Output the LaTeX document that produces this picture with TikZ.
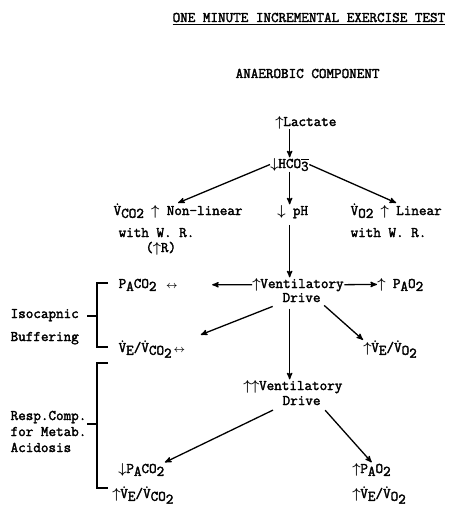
\documentclass[tikz,border=0pt]{standalone}
\usepackage{amssymb,amsmath}
\usepackage{fontspec}
\setmonofont{Latin Modern Mono}[FakeBold=2.2]
\usepackage{tikz}
\usetikzlibrary{shapes,arrows}
\tikzstyle{lbl} = [anchor=base west, inner sep=0pt]
\newcommand{\dn}[1]{\raisebox{-0.45ex}{#1}}
\newcommand{\dnn}[1]{\raisebox{-0.9ex}{#1}}
\newcommand{\Vd}{\accent"02D9 V}
\newcommand{\upa}{\makebox[0.525em]{$\boldsymbol{\uparrow}$}}
\newcommand{\dna}{\makebox[0.525em]{$\boldsymbol{\downarrow}$}}
\newcommand{\lra}{\makebox[1.05em]{$\scriptstyle\boldsymbol{\leftrightarrow}$}}

\begin{document}
\begin{tikzpicture}[x=1pt,y=-1pt,->,>=stealth',line width=1.3pt,
  every node/.style={font=\ttfamily\fontsize{14.7}{17}\selectfont}]
\useasboundingbox (0,0) rectangle (450,508);

\node[lbl] (title) at (172,22) {\underline{ONE MINUTE INCREMENTAL EXERCISE TEST}};
\node[lbl] (anaer) at (235,78) {ANAEROBIC COMPONENT};

\node[lbl] (lact) at (275,126) {\upa Lactate};
\node[lbl] (hco) at (270,168) {\dna HCO\dn{$\overline{\mbox{3}}$}};

\node[lbl] (vco) at (113,215) {\Vd\dn{CO2} \upa{} Non-linear};
\node[lbl] (ph) at (277,215) {\dna{} pH};
\node[lbl] (vo) at (350,215) {\Vd\dn{O2} \upa{} Linear};
\node[lbl] (wr1) at (118,237) {with W. R.};
\node[lbl] (r1) at (145,252) {(\upa R)};
\node[lbl] (wr2) at (350,237) {with W. R.};

\node[lbl] (paco) at (118,288) {P\dn{A}CO\dn{2} \lra};
\node[lbl] (vent) at (252,288) {\upa Ventilatory};
\node[lbl] (pao) at (377,288) {\upa{} P\dn{A}O\dn{2}};
\node[lbl] (drive) at (282,302) {Drive};

\node[lbl] (iso) at (10,318) {Isocapnic};
\node[lbl] (buf) at (10,341) {Buffering};

\node[lbl] (vevco) at (118,352) {\Vd\dn{E}/\Vd\dn{CO}\dnn{2}\lra};
\node[lbl] (vevo) at (363,352) {\upa\Vd\dn{E}/\Vd\dn{O}\dnn{2}};

\node[lbl] (vvent) at (243,390) {\upa\upa Ventilatory};
\node[lbl] (drive2) at (282,405) {Drive};

\node[lbl] (resp) at (10,420) {Resp.Comp.};
\node[lbl] (metab) at (10,436) {for Metab.};
\node[lbl] (acid) at (10,452) {Acidosis};

\node[lbl] (paco2) at (118,473) {\dna P\dn{A}CO\dn{2}};
\node[lbl] (pao2) at (352,473) {\upa P\dn{A}O\dn{2}};
\node[lbl] (vevco2) at (112,498) {\upa\Vd\dn{E}/\Vd\dn{CO}\dnn{2}};
\node[lbl] (vevo2) at (352,498) {\upa\Vd\dn{E}/\Vd\dn{O}\dnn{2}};

% arrows
\draw (lact.south -| hco) -- (hco.north);
\draw (hco.west) -- (vco.north);
\draw (hco.south) -- (hco.south |- ph.north);
\draw (hco.east) -- (vo.north);
\draw[shorten <=6pt] (ph.south -| hco) -- (hco |- vent.north);
\draw[shorten >=32pt] (vent.west) -- (paco.east);
\draw (vent.east) -- (pao.west);
\draw[shorten <=10pt,shorten >=14pt] (drive.south west) -- (vevco.north east);
\draw[shorten <=6pt] (drive.south -| hco) -- (hco |- vvent.north);
\draw[shorten <=4pt] (drive.south east) -- (vevo.north west);
\draw[shorten <=10pt] (drive2.south west) -- (paco2.north east);
\draw[shorten <=6pt] (drive2.south east) -- (pao2.north);

% brackets
\draw[-] (108,283) -- (97,283) -- (97,347) -- (108,347);
\draw[-] (87,316) -- (97,316);
\draw[-] (108,363) -- (97,363) -- (97,488) -- (108,488);
\draw[-] (87,424) -- (97,424);
\end{tikzpicture}
\end{document}
